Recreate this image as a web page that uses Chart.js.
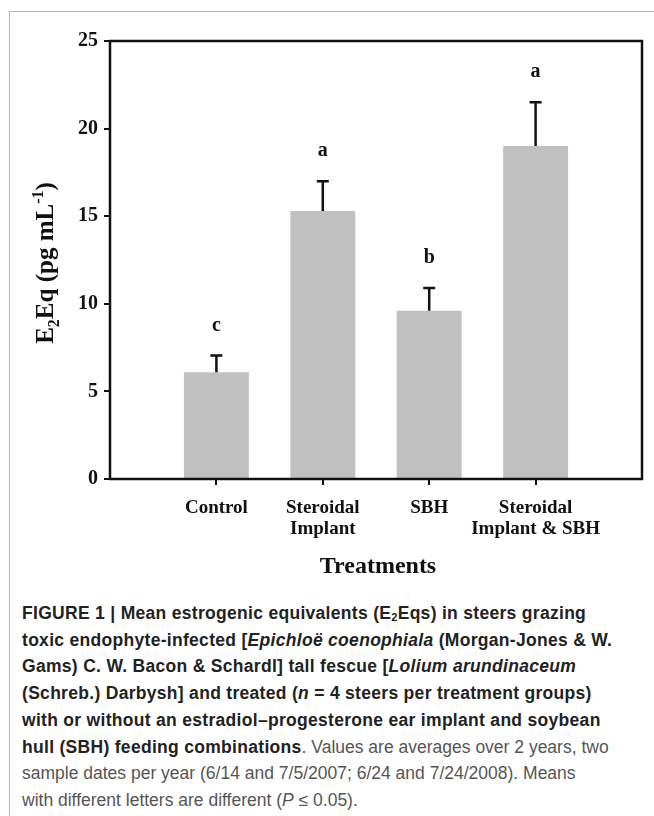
<!DOCTYPE html>
<html>
<head>
<meta charset="utf-8">
<script src="https://cdn.jsdelivr.net/npm/chart.js@4"></script>
<style>
body { margin: 0; background: #fff; width: 654px; height: 816px; overflow: hidden; position: relative; }
#frame { position: absolute; left: 9px; top: 11px; width: 700px; height: 900px; border-left: 1.5px solid #b4b4b4; border-top: 1.5px solid #b4b4b4; }
#wrap { position: absolute; left: 0; top: 0; width: 654px; height: 600px; }
#caption { position: absolute; left: 22px; top: 600px; width: 632px; white-space: nowrap;
  font-family: "Liberation Sans", Arial, sans-serif; font-size: 17.5px; line-height: 26.7px; color: #555; }
#caption b { color: #222; letter-spacing: 0.3px; }
#caption sub { font-size: 11px; line-height: 0; vertical-align: -2px; }
</style>
</head>
<body>
<div id="frame"></div>
<div id="wrap"><canvas id="e2eq" width="654" height="600"></canvas></div>
<div id="caption">
<b>FIGURE 1 | Mean estrogenic equivalents (E<sub>2</sub>Eqs) in steers grazing</b><br>
<b>toxic endophyte-infected [<i>Epichloë coenophiala</i> (Morgan-Jones &amp; W.</b><br>
<b>Gams) C. W. Bacon &amp; Schardl] tall fescue [<i>Lolium arundinaceum</i></b><br>
<b>(Schreb.) Darbysh] and treated (<i>n</i> = 4 steers per treatment groups)</b><br>
<b>with or without an estradiol–progesterone ear implant and soybean</b><br>
<b>hull (SBH) feeding combinations</b>. Values are averages over 2 years, two<br>
sample dates per year (6/14 and 7/5/2007; 6/24 and 7/24/2008). Means<br>
with different letters are different (<i>P</i> ≤ 0.05).
</div>
<script>
// treatments, means and standard errors
var treatments = [["Control"], ["Steroidal", "Implant"], ["SBH"], ["Steroidal", "Implant & SBH"]];
var means = [6.1, 15.3, 9.6, 19.0];
var errors = [0.95, 1.7, 1.3, 2.5];
var letters = ["c", "a", "b", "a"];
var yTicks = [0, 5, 10, 15, 20, 25];

// empty slot on each side so bars sit at 1..4 on a 0..5 axis
var labels = [""].concat(treatments, [""]);
var barData = [null].concat(means, [null]);

var serif = "'Liberation Serif', 'Times New Roman', serif";

var extras = {
    id: 'extras',
    afterDatasetsDraw: function(chart) {
        var ctx = chart.ctx;
        var a = chart.chartArea;
        var y = chart.scales.y;
        var bars = chart.getDatasetMeta(0).data;
        ctx.save();
        // error bars (upper only) and letters
        ctx.strokeStyle = '#111';
        ctx.lineWidth = 2.5;
        ctx.fillStyle = '#111';
        ctx.font = 'bold 20px ' + serif;
        ctx.textAlign = 'center';
        ctx.textBaseline = 'middle';
        for (var i = 0; i < means.length; i++) {
            var bx = bars[i + 1].x;
            var top = y.getPixelForValue(means[i]);
            var tip = y.getPixelForValue(means[i] + errors[i]);
            ctx.beginPath();
            ctx.moveTo(bx, top);
            ctx.lineTo(bx, tip);
            ctx.moveTo(bx - 6, tip);
            ctx.lineTo(bx + 6, tip);
            ctx.stroke();
            ctx.fillText(letters[i], bx, tip - 30);
        }
        // plot box
        ctx.lineWidth = 2.5;
        ctx.strokeRect(a.left, a.top, a.right - a.left, a.bottom - a.top);

        // x title
        ctx.font = 'bold 24px ' + serif;
        ctx.fillText('Treatments', (a.left + a.right) / 2 + 2, a.bottom + 88);

        // y title with sub/superscript
        var parts = [
            {t: 'E', s: 25, dy: 0},
            {t: '2', s: 16, dy: 6},
            {t: 'Eq (pg mL', s: 25, dy: 0},
            {t: '-1', s: 16, dy: -10},
            {t: ')', s: 25, dy: 0}
        ];
        var total = 0;
        parts.forEach(function(p) {
            ctx.font = 'bold ' + p.s + 'px ' + serif;
            p.w = ctx.measureText(p.t).width;
            total += p.w;
        });
        ctx.translate(45, (a.top + a.bottom) / 2 + 3);
        ctx.rotate(-Math.PI / 2);
        ctx.textAlign = 'left';
        ctx.textBaseline = 'alphabetic';
        var cx = -total / 2;
        parts.forEach(function(p) {
            ctx.font = 'bold ' + p.s + 'px ' + serif;
            ctx.fillText(p.t, cx, 8 + p.dy);
            cx += p.w;
        });
        ctx.restore();
    }
};

var chart = new Chart('e2eq', {
    type: 'bar',
    data: {
        labels: labels,
        datasets: [{
            data: barData,
            backgroundColor: '#c0c0c0',
            borderWidth: 0,
            barPercentage: 0.61,
            categoryPercentage: 1
        }]
    },
    options: {
        responsive: false,
        animation: false,
        layout: {padding: {left: 0, right: 9, top: 41, bottom: 0}},
        plugins: {legend: {display: false}, tooltip: {enabled: false}},
        scales: {
            x: {
                offset: false,
                border: {display: false},
                grid: {
                    offset: false,
                    drawOnChartArea: false,
                    tickLength: 6,
                    lineWidth: 2,
                    color: function(c) { return (c.index === 0 || c.index === labels.length - 1) ? 'rgba(0,0,0,0)' : '#111'; }
                },
                ticks: {
                    color: '#111',
                    font: {family: serif, size: 19, weight: 'bold', lineHeight: 1.12},
                    padding: 12,
                    maxRotation: 0,
                    autoSkip: false
                },
                afterFit: function(s) { s.height = 600 - 479; }
            },
            y: {
                min: 0,
                max: 25,
                border: {display: false},
                grid: {drawOnChartArea: false, tickLength: 6, lineWidth: 2, color: '#111'},
                afterBuildTicks: function(s) { s.ticks = yTicks.map(function(v) { return {value: v}; }); },
                ticks: {
                    color: '#111',
                    font: {family: serif, size: 20, weight: 'bold'},
                    padding: 6
                },
                afterFit: function(s) { s.width = 110; }
            }
        }
    },
    plugins: [extras]
});
</script>
</body>
</html>
